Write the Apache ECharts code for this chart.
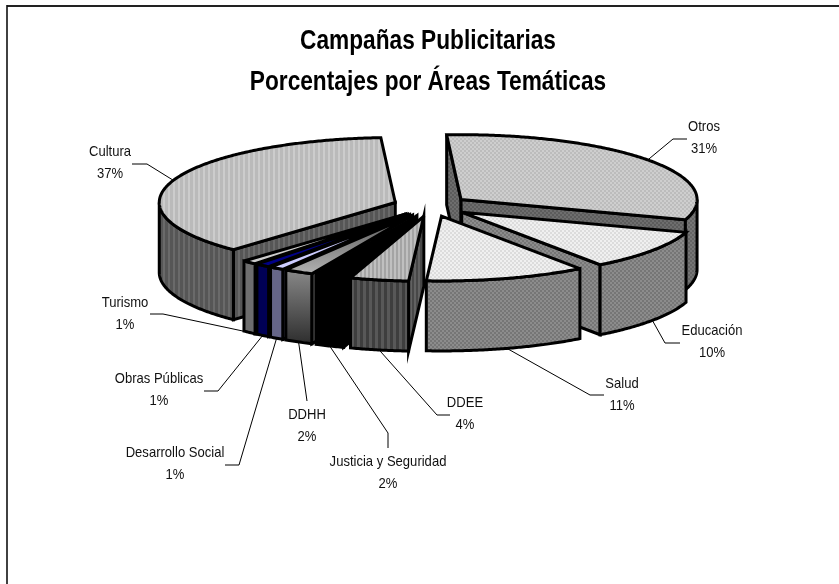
<!DOCTYPE html>
<html lang="es">
<head>
<meta charset="utf-8">
<title>Campañas Publicitarias</title>
<script src="https://cdn.jsdelivr.net/npm/echarts@6/dist/echarts.min.js"></script>
<style>html,body{margin:0;padding:0;background:#fff}#chart{width:839px;height:584px}</style>
</head>
<body>
<div id="chart"></div>
<script>
// Share of campaigns by subject area, clockwise from the top of the pie.
const areas = ['Otros', 'Educación', 'Salud', 'DDEE', 'Justicia y Seguridad', 'DDHH',
  'Desarrollo Social', 'Obras Públicas', 'Turismo', 'Cultura'];
const percents = [31, 10, 11, 4, 2, 2, 1, 1, 1, 37];

// Projection of the tilted pie.
const pieCentre = [431, 206];
const radius = 236;
const squash = 0.275;
const depth = 70;
const explode = 38;
const startDeg = -3.5;

// Where each label block sits and how its leader line bends on the way there.
const labelCentres = [[704, 138], [712, 342], [622, 395], [465, 414], [388, 473],
  [307, 426], [175, 464], [159, 390], [125, 314], [110, 163]];
const leaderBends = [
  [[673, 139], [687, 139]],
  [[665, 343], [680, 343]],
  [[590, 395], [604, 395]],
  [[437, 415], [450, 415]],
  [[388, 433], [388, 448]],
  [[307, 401]],
  [[239, 465], [225, 465]],
  [[218, 391], [204, 391]],
  [[163, 314], [150, 314]],
  [[147, 164], [132, 164]]
];

// Small repeating tiles for the halftoned faces.
function checker(a, b, cell) {
  const c = document.createElement('canvas');
  c.width = c.height = cell * 2;
  const g = c.getContext('2d');
  g.fillStyle = a; g.fillRect(0, 0, cell * 2, cell * 2);
  g.fillStyle = b; g.fillRect(0, 0, cell, cell); g.fillRect(cell, cell, cell, cell);
  return { image: c, repeat: 'repeat' };
}
function stripes(a, b, wa, wb) {
  const c = document.createElement('canvas');
  c.width = wa + wb; c.height = 2;
  const g = c.getContext('2d');
  g.fillStyle = a; g.fillRect(0, 0, wa, 2);
  g.fillStyle = b; g.fillRect(wa, 0, wb, 2);
  return { image: c, repeat: 'repeat' };
}
const fade = (from, to) => ({ type: 'linear', x: 0, y: 0, x2: 0, y2: 1,
  colorStops: [{ offset: 0, color: from }, { offset: 1, color: to }] });

const faces = [
  { top: checker('#bcbcbc', '#cecece', 2), side: checker('#646464', '#767676', 2), cut: checker('#5c5c5c', '#6e6e6e', 2) },
  { top: checker('#dcdcdc', '#f0f0f0', 2), side: checker('#767676', '#8c8c8c', 2), cut: checker('#767676', '#8c8c8c', 2) },
  { top: checker('#dcdcdc', '#f0f0f0', 2), side: checker('#767676', '#8c8c8c', 2), cut: checker('#767676', '#8c8c8c', 2) },
  { top: stripes('#a4a4a4', '#c0c0c0', 2, 2), side: stripes('#3e3e3e', '#585858', 3, 3), cut: stripes('#484848', '#626262', 2, 2), keenCut: true },
  { top: '#000000', side: '#000000', cut: '#000000' },
  { top: fade('#555555', '#b4b4b4'), side: fade('#8a8a8a', '#2c2c2c'), cut: '#555555' },
  { top: '#ccccff', side: '#666688', cut: '#666688' },
  { top: '#000088', side: '#000055', cut: '#000055' },
  { top: '#cccccc', side: '#6e6e6e', cut: '#6e6e6e' },
  { top: stripes('#bababa', '#cccccc', 3, 2), side: stripes('#565656', '#6a6a6a', 3, 2), cut: stripes('#565656', '#6a6a6a', 3, 2) }
];

const total = percents.reduce((a, b) => a + b, 0);
const rad = d => d * Math.PI / 180;
const rim = d => [radius * Math.sin(rad(d)), -radius * squash * Math.cos(rad(d))];

// Angular span and displaced apex of every slice.
let running = startDeg;
const slices = percents.map(v => {
  const from = running;
  const to = running + v / total * 360;
  running = to;
  const mid = (from + to) / 2;
  const apex = [
    pieCentre[0] + explode * Math.sin(rad(mid)),
    pieCentre[1] - explode * squash * Math.cos(rad(mid))
  ];
  return { from, to, mid, apex };
});

const arcPoints = (s, from, to, dy) => {
  const pts = [];
  const steps = Math.max(2, Math.ceil((to - from) * 2));
  for (let i = 0; i <= steps; i++) {
    const r = rim(from + (to - from) * i / steps);
    pts.push([s.apex[0] + r[0], s.apex[1] + r[1] + dy]);
  }
  return pts;
};

const poly = (points, fill, miterLimit) => ({
  type: 'polygon', silent: true, shape: { points },
  style: { fill, stroke: '#000', lineWidth: 3, lineJoin: 'miter', miterLimit: miterLimit || 3 }
});

function cutFace(s, deg, f) {
  const r = rim(deg);
  const a = s.apex;
  return poly([[a[0], a[1]], [a[0] + r[0], a[1] + r[1]], [a[0] + r[0], a[1] + r[1] + depth], [a[0], a[1] + depth]],
    f.cut, f.keenCut ? 14 : 3);
}

function drawSlice(params, api) {
  const i = api.value(0);
  const s = slices[i];
  const f = faces[i];
  const kids = [];
  // Radial cuts show only when they turn towards the viewer.
  if (Math.sin(rad(s.from)) < 0) kids.push(cutFace(s, s.from, f));
  if (Math.sin(rad(s.to)) > 0) kids.push(cutFace(s, s.to, f));
  // The rounded wall exists only on the near half of the rim.
  const a = Math.max(s.from, 90);
  const b = Math.min(s.to, 270);
  if (b > a) {
    kids.push(poly(arcPoints(s, a, b, 0).concat(arcPoints(s, a, b, depth).reverse()), f.side));
  }
  kids.push(poly([s.apex].concat(arcPoints(s, s.from, s.to, 0)), f.top));
  return { type: 'group', children: kids };
}

function drawLabel(params, api) {
  const i = api.value(0);
  const s = slices[i];
  const r = rim(s.mid);
  const nearSide = Math.cos(rad(s.mid)) < 0;
  const start = [s.apex[0] + r[0], s.apex[1] + r[1] + (nearSide ? depth : 0)];
  return {
    type: 'group',
    children: [
      { type: 'polyline', silent: true,
        shape: { points: [start].concat(leaderBends[i]) },
        style: { stroke: '#000', lineWidth: 1, fill: null } },
      { type: 'text', silent: true,
        x: labelCentres[i][0], y: labelCentres[i][1], scaleX: 0.87,
        style: {
          x: 0, y: 0,
          text: areas[i] + '\n' + percents[i] + '%',
          align: 'center', verticalAlign: 'middle',
          fontFamily: '"Liberation Sans", Arial, sans-serif', fontSize: 15, lineHeight: 22,
          fill: '#111'
        } }
    ]
  };
}

// Far slices are painted first so nearer ones overlap them.
const paintOrder = slices
  .map((s, i) => [i, Math.cos(rad(s.mid))])
  .sort((p, q) => q[1] - p[1])
  .map(p => [p[0]]);

const chart = echarts.init(document.getElementById('chart'), null, { renderer: 'canvas' });
chart.setOption({
  animation: false,
  backgroundColor: '#ffffff',
  graphic: [
    { type: 'line', silent: true, shape: { x1: 7, y1: 6, x2: 839, y2: 6 }, style: { stroke: '#222', lineWidth: 2 } },
    { type: 'line', silent: true, shape: { x1: 7, y1: 5, x2: 7, y2: 584 }, style: { stroke: '#111', lineWidth: 1.6 } },
    { type: 'text', silent: true, x: 428, y: 62, scaleX: 0.84,
      style: {
        x: 0, y: 0,
        text: 'Campañas Publicitarias\nPorcentajes por Áreas Temáticas',
        align: 'center', verticalAlign: 'middle',
        fontFamily: '"Liberation Sans", Arial, sans-serif',
        fontSize: 27, fontWeight: 'bold', lineHeight: 41, fill: '#000'
      } }
  ],
  series: [
    { type: 'custom', coordinateSystem: 'none', renderItem: drawLabel, data: areas.map((_, i) => [i]), silent: true, z: 1, clip: false },
    { type: 'custom', coordinateSystem: 'none', renderItem: drawSlice, data: paintOrder, silent: true, z: 2, clip: false }
  ]
});
</script>
</body>
</html>
